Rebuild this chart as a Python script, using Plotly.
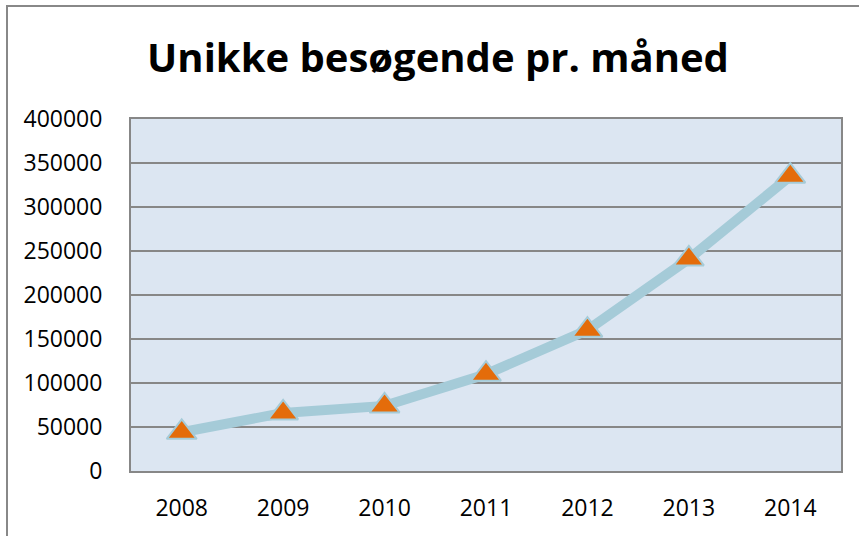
import plotly.graph_objects as go

years = ["2008", "2009", "2010", "2011", "2012", "2013", "2014"]
visitors = [44000, 66000, 74000, 110000, 160000, 241000, 335000]
y_ticks = [0, 50000, 100000, 150000, 200000, 250000, 300000, 350000, 400000]

W, H = 859, 536
L, T = 131, 119
R = W - 841
B = H - 471
pw, ph = W - L - R, H - T - B

fig = go.Figure()
fig.add_trace(go.Scatter(
    x=years, y=visitors, mode="lines+markers",
    line=dict(color="#A5CBD8", width=10),
    marker=dict(symbol="triangle-up", size=26, color="#E46C0A",
                line=dict(color="#A5CBD8", width=2)),
    showlegend=False, cliponaxis=False,
))

fig.update_layout(
    width=W, height=H,
    margin=dict(l=L, r=R, t=T, b=B, autoexpand=False),
    paper_bgcolor="white", plot_bgcolor="#DCE6F2",
    font=dict(family="Open Sans", color="black", size=23),
    title=dict(text="<b>Unikke besøgende pr. måned</b>", x=438 / W, xanchor="center",
               y=1 - 58 / H, yanchor="middle", yref="container",
               font=dict(family="Open Sans", size=40, color="black")),
    xaxis=dict(type="category", range=[-0.5, 6.5], showgrid=False, ticks="",
               showline=True, linecolor="#878787", linewidth=2, mirror=True,
               tickfont=dict(size=23), ticklabelstandoff=15, automargin=False),
    yaxis=dict(range=[0, 400000], tickvals=y_ticks, ticktext=[str(v) for v in y_ticks],
               showgrid=True, gridcolor="#878787", gridwidth=2, zeroline=False,
               showline=True, linecolor="#878787", linewidth=2, mirror=True,
               ticks="", ticklabelstandoff=22, tickfont=dict(size=23), automargin=False),
)

fig.add_shape(type="rect", xref="paper", yref="paper",
              x0=(7 - L) / pw, x1=(W + 30 - L) / pw,
              y0=-(B + 30) / ph, y1=(H - B - 6) / ph,
              line=dict(color="#888888", width=2), layer="below")

fig.write_html("out.html", config={"displayModeBar": False},
               post_script="document.body.style.margin='0';document.body.style.overflow='hidden';")
